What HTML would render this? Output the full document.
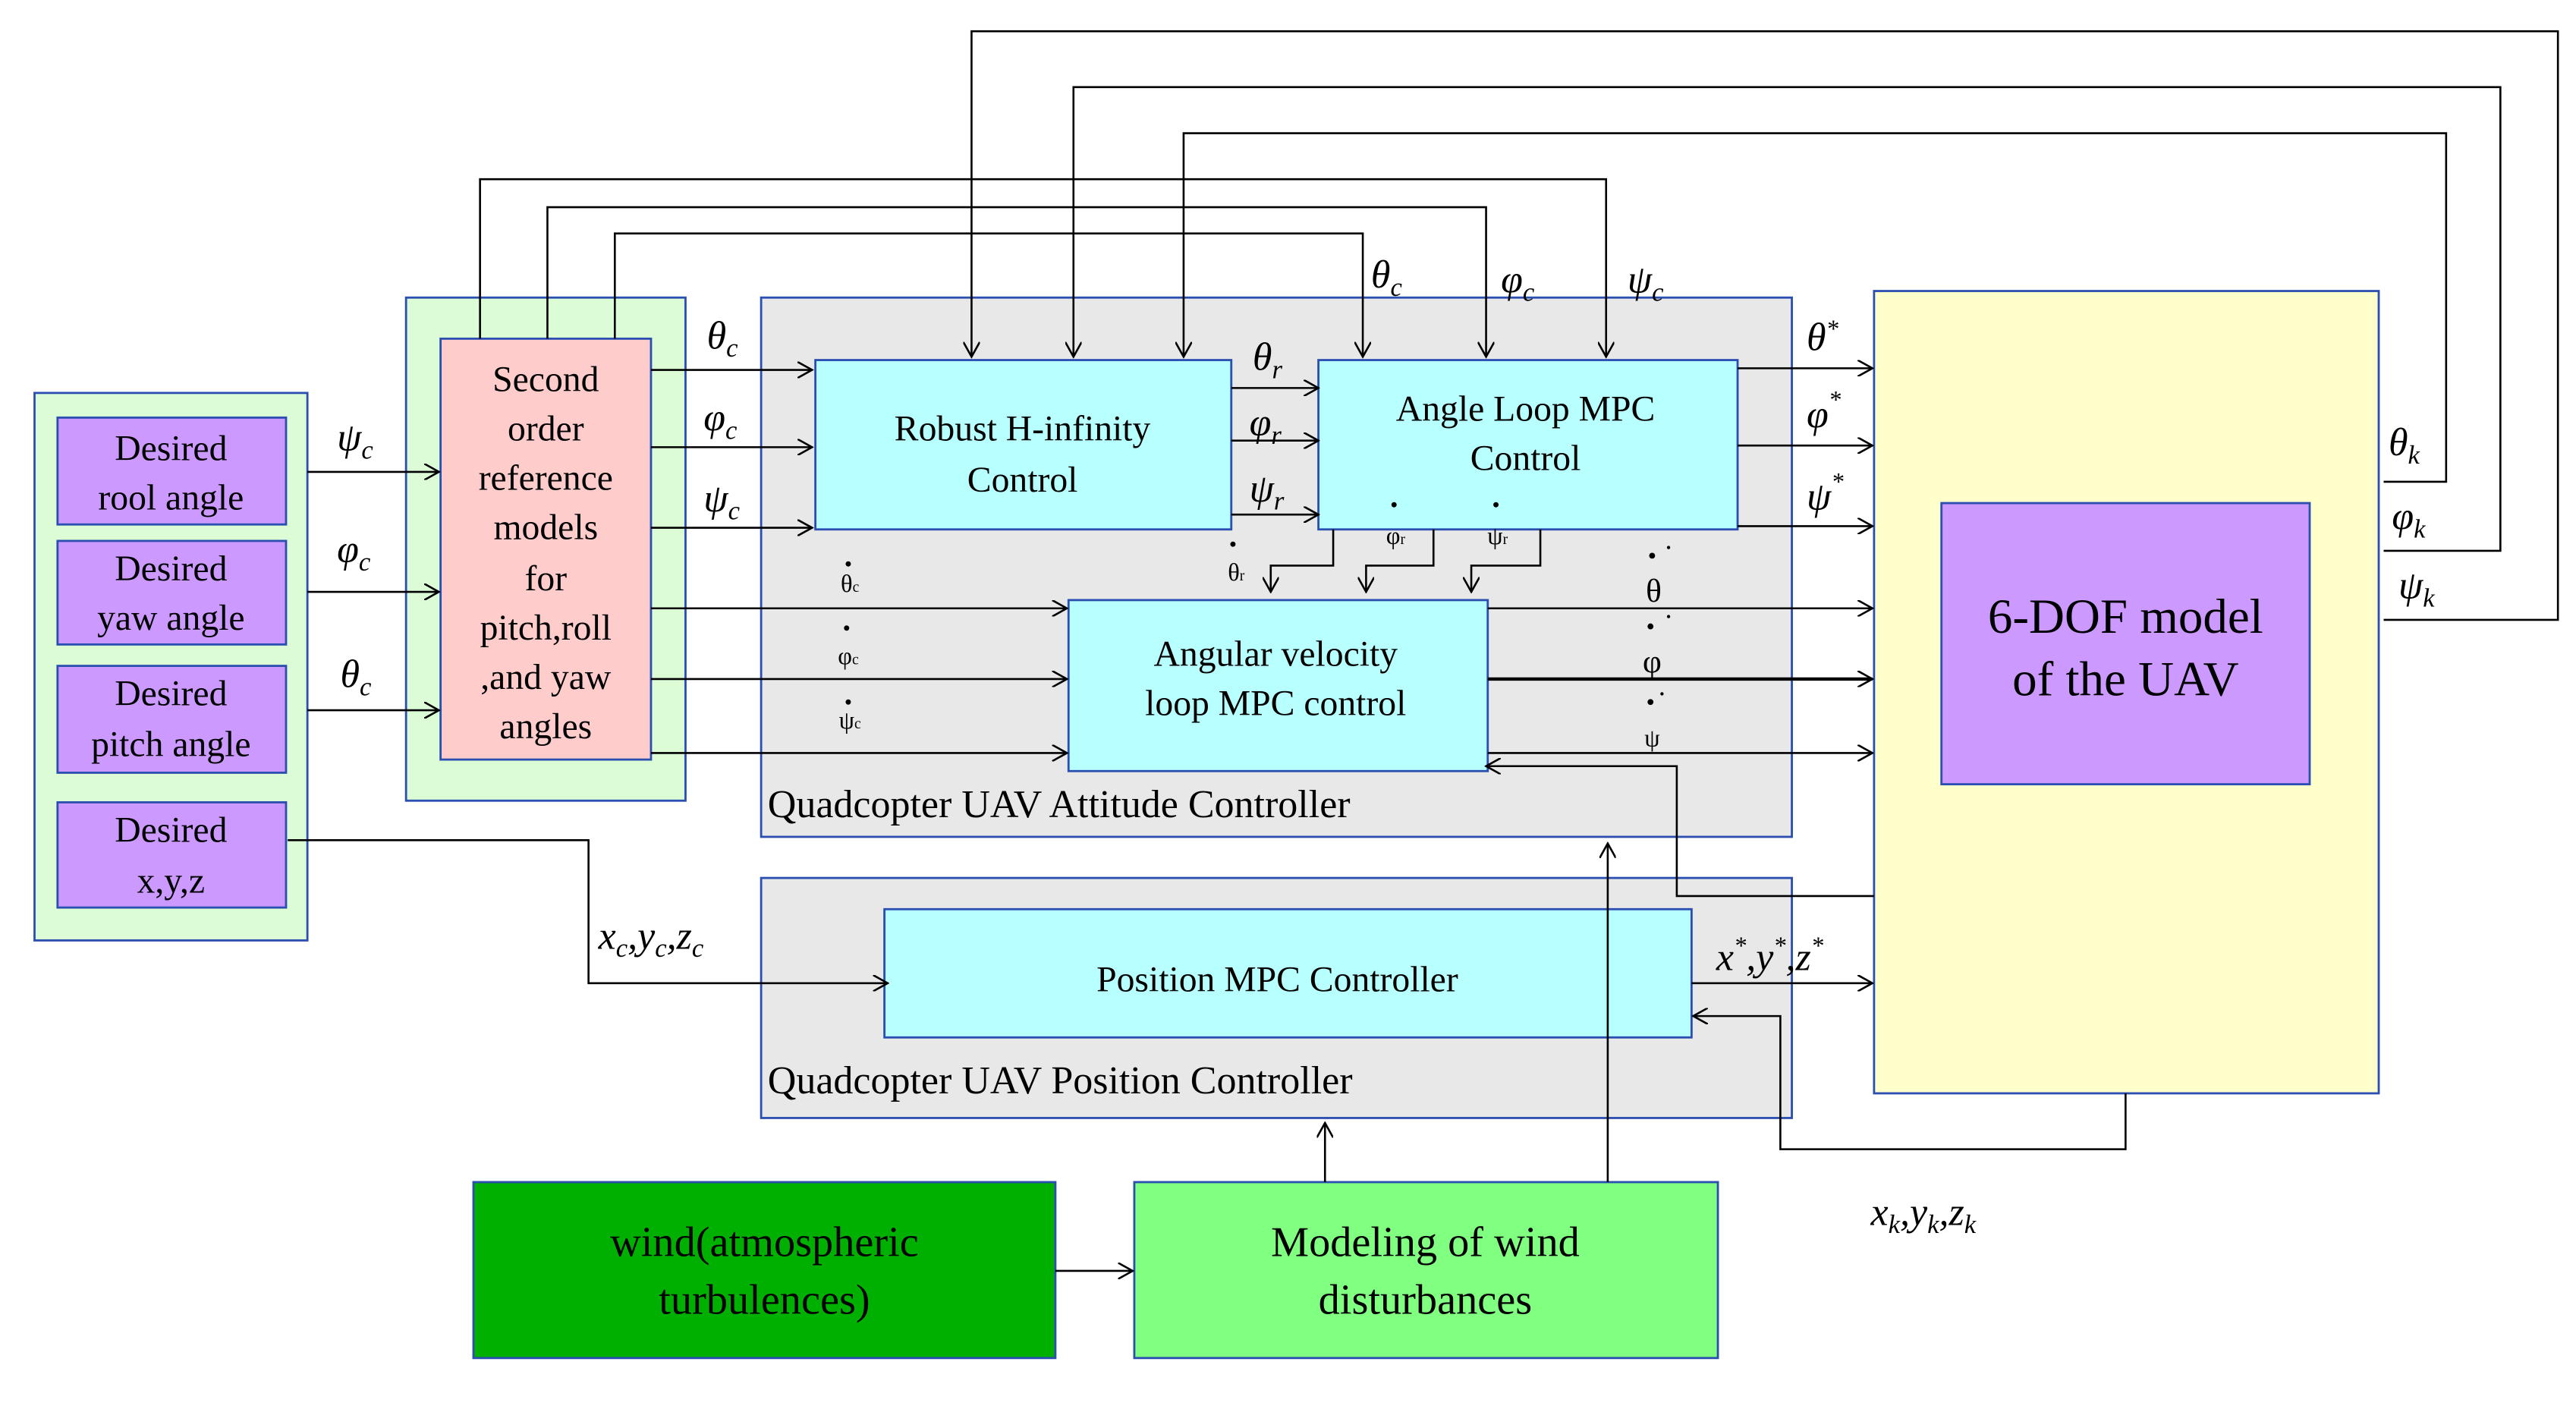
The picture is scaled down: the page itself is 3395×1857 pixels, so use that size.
<!DOCTYPE html>
<html><head><meta charset="utf-8"><style>html,body{margin:0;padding:0;background:#fff}svg{display:block}</style></head>
<body>
<svg width="3395" height="1857" viewBox="0 0 1567 857" preserveAspectRatio="none" xmlns="http://www.w3.org/2000/svg" font-family="Liberation Serif, serif">
<defs><marker id="a" markerWidth="10" markerHeight="10" refX="9" refY="5" orient="auto" markerUnits="userSpaceOnUse"><path d="M0,0 L9,5 L0,10" fill="none" stroke="#000" stroke-width="1.2"/></marker></defs>
<g stroke="#2a4fb0" stroke-width="1.3">
<rect x="21" y="239" width="166" height="333" fill="#dcfcd6"/>
<rect x="247" y="181" width="170" height="306" fill="#dcfcd6"/>
<rect x="463" y="181" width="627" height="328" fill="#e8e8e8"/>
<rect x="463" y="534" width="627" height="146" fill="#e8e8e8"/>
<rect x="1140" y="177" width="307" height="488" fill="#ffffcc"/>
<rect x="35" y="254" width="139" height="65" fill="#cc99ff"/>
<rect x="35" y="329" width="139" height="63" fill="#cc99ff"/>
<rect x="35" y="405" width="139" height="65" fill="#cc99ff"/>
<rect x="35" y="488" width="139" height="64" fill="#cc99ff"/>
<rect x="268" y="206" width="128" height="256" fill="#ffcccc"/>
<rect x="496" y="219" width="253" height="103" fill="#b8ffff"/>
<rect x="802" y="219" width="255" height="103" fill="#b8ffff"/>
<rect x="650" y="365" width="255" height="104" fill="#b8ffff"/>
<rect x="538" y="553" width="491" height="78" fill="#b8ffff"/>
<rect x="1181" y="306" width="224" height="171" fill="#cc99ff"/>
<rect x="288" y="719" width="354" height="107" fill="#00b000"/>
<rect x="690" y="719" width="355" height="107" fill="#80ff80"/>
</g>
<g stroke="#000" stroke-width="1.2" fill="none">
<path d="M1450,293 H1488 V81 H720 V217" marker-end="url(#a)"/>
<path d="M1450,335 H1521 V53 H653 V217" marker-end="url(#a)"/>
<path d="M1450,377 H1556 V19 H591 V217" marker-end="url(#a)"/>
<path d="M292,206 V109 H977 V217" marker-end="url(#a)"/>
<path d="M333,206 V126 H904 V217" marker-end="url(#a)"/>
<path d="M374,206 V142 H829 V217" marker-end="url(#a)"/>
<path d="M187,287 H267" marker-end="url(#a)"/>
<path d="M187,360 H267" marker-end="url(#a)"/>
<path d="M187,432 H267" marker-end="url(#a)"/>
<path d="M396,225 H494" marker-end="url(#a)"/>
<path d="M396,272 H494" marker-end="url(#a)"/>
<path d="M396,321 H494" marker-end="url(#a)"/>
<path d="M396,370 H649" marker-end="url(#a)"/>
<path d="M396,413 H649" marker-end="url(#a)"/>
<path d="M396,458 H649" marker-end="url(#a)"/>
<path d="M749,236 H802" marker-end="url(#a)"/>
<path d="M749,268 H802" marker-end="url(#a)"/>
<path d="M749,313 H802" marker-end="url(#a)"/>
<path d="M1057,224 H1139" marker-end="url(#a)"/>
<path d="M1057,271 H1139" marker-end="url(#a)"/>
<path d="M1057,320 H1139" marker-end="url(#a)"/>
<path d="M905,370 H1139" marker-end="url(#a)"/>
<path d="M905,413 H1139" stroke-width="2" marker-end="url(#a)"/>
<path d="M905,458 H1139" marker-end="url(#a)"/>
<path d="M811,322 V344 H773 V360" marker-end="url(#a)"/>
<path d="M872,322 V344 H831 V360" marker-end="url(#a)"/>
<path d="M937,322 V344 H895 V360" marker-end="url(#a)"/>
<path d="M1140,545 H1020 V466 H904" marker-end="url(#a)"/>
<path d="M175,511 H358 V598 H540" marker-end="url(#a)"/>
<path d="M1029,598 H1139" marker-end="url(#a)"/>
<path d="M1293,665 V699 H1083 V618 H1030" marker-end="url(#a)"/>
<path d="M806,719 V683" marker-end="url(#a)"/>
<path d="M978,719 V513" marker-end="url(#a)"/>
<path d="M642,773 H689" marker-end="url(#a)"/>
</g>
<g font-size="22" text-anchor="middle" fill="#000">
<text x="104" y="280">Desired</text><text x="104" y="310">rool angle</text>
<text x="104" y="353">Desired</text><text x="104" y="383">yaw angle</text>
<text x="104" y="429">Desired</text><text x="104" y="460">pitch angle</text>
<text x="104" y="512">Desired</text><text x="104" y="543">x,y,z</text>
<text x="332" y="238">Second</text><text x="332" y="268">order</text><text x="332" y="298">reference</text><text x="332" y="328">models</text><text x="332" y="359">for</text><text x="332" y="389">pitch,roll</text><text x="332" y="419">,and yaw</text><text x="332" y="449">angles</text>
<text x="622" y="268">Robust H-infinity</text><text x="622" y="299">Control</text>
<text x="928" y="256">Angle Loop MPC</text><text x="928" y="286">Control</text>
<text x="776" y="405">Angular velocity</text><text x="776" y="435">loop MPC control</text>
<text x="777" y="603">Position MPC Controller</text>
<text x="1293" y="385" font-size="30">6-DOF model</text><text x="1293" y="423" font-size="30">of the UAV</text>
<text x="465" y="764" font-size="26">wind(atmospheric</text><text x="465" y="799" font-size="26">turbulences)</text>
<text x="867" y="764" font-size="26">Modeling of wind</text><text x="867" y="799" font-size="26">disturbances</text>
</g>
<g font-size="24" fill="#000">
<text x="467" y="497">Quadcopter UAV Attitude Controller</text>
<text x="467" y="665">Quadcopter UAV Position Controller</text>
</g>
<g font-size="24" font-style="italic" fill="#000">
<text x="205" y="274">ψ<tspan font-size="16" dy="5">c</tspan></text>
<text x="205" y="342">φ<tspan font-size="16" dy="5">c</tspan></text>
<text x="207" y="418">θ<tspan font-size="16" dy="5">c</tspan></text>
<text x="430" y="212">θ<tspan font-size="16" dy="5">c</tspan></text>
<text x="428" y="262">φ<tspan font-size="16" dy="5">c</tspan></text>
<text x="428" y="311">ψ<tspan font-size="16" dy="5">c</tspan></text>
<text x="762" y="225">θ<tspan font-size="16" dy="5">r</tspan></text>
<text x="760" y="265">φ<tspan font-size="16" dy="5">r</tspan></text>
<text x="760" y="305">ψ<tspan font-size="16" dy="5">r</tspan></text>
<text x="834" y="175">θ<tspan font-size="16" dy="5">c</tspan></text>
<text x="913" y="178">φ<tspan font-size="16" dy="5">c</tspan></text>
<text x="990" y="178">ψ<tspan font-size="16" dy="5">c</tspan></text>
<text x="1099" y="213">θ<tspan font-size="15" dy="-8">*</tspan></text>
<text x="1099" y="260">φ<tspan font-size="15" dy="-12">*</tspan></text>
<text x="1099" y="310">ψ<tspan font-size="15" dy="-12">*</tspan></text>
<text x="1453" y="277">θ<tspan font-size="16" dy="5">k</tspan></text>
<text x="1455" y="322">φ<tspan font-size="16" dy="5">k</tspan></text>
<text x="1459" y="364">ψ<tspan font-size="16" dy="5">k</tspan></text>
<text x="364" y="577">x<tspan font-size="16" dy="5">c</tspan><tspan dy="-5">,y</tspan><tspan font-size="16" dy="5">c</tspan><tspan dy="-5">,z</tspan><tspan font-size="16" dy="5">c</tspan></text>
<text x="1044" y="590">x<tspan font-size="15" dy="-10">*</tspan><tspan dy="10">,y</tspan><tspan font-size="15" dy="-10">*</tspan><tspan dy="10">,z</tspan><tspan font-size="15" dy="-10">*</tspan></text>
<text x="1138" y="745">x<tspan font-size="16" dy="5">k</tspan><tspan dy="-5">,y</tspan><tspan font-size="16" dy="5">k</tspan><tspan dy="-5">,z</tspan><tspan font-size="16" dy="5">k</tspan></text>
</g>
<g font-size="15" fill="#000" text-anchor="middle">
<text x="517" y="360">θ<tspan font-size="9">c</tspan></text>
<text x="516" y="404">φ<tspan font-size="9">c</tspan></text>
<text x="517" y="443">ψ<tspan font-size="9">c</tspan></text>
<text x="752" y="353">θ<tspan font-size="9">r</tspan></text>
<text x="849" y="331">φ<tspan font-size="9">r</tspan></text>
<text x="911" y="331">ψ<tspan font-size="9">r</tspan></text>
<text x="1006" y="366" font-size="20">θ</text>
<text x="1005" y="409" font-size="20">φ</text>
<text x="1005" y="454">ψ</text>
</g>
<g fill="#000">
<circle cx="516" cy="343" r="1.6"/><circle cx="515" cy="382" r="1.6"/><circle cx="516" cy="427" r="1.6"/>
<circle cx="750" cy="331" r="1.6"/><circle cx="848" cy="307" r="1.6"/><circle cx="910" cy="307" r="1.6"/>
<circle cx="1005" cy="338" r="1.8"/><circle cx="1004" cy="381" r="1.8"/><circle cx="1004" cy="427" r="1.8"/>
<circle cx="1015" cy="333" r="1"/><circle cx="1015" cy="375" r="1"/><circle cx="1011" cy="422" r="1"/>
</g>
</svg>
</body></html>
